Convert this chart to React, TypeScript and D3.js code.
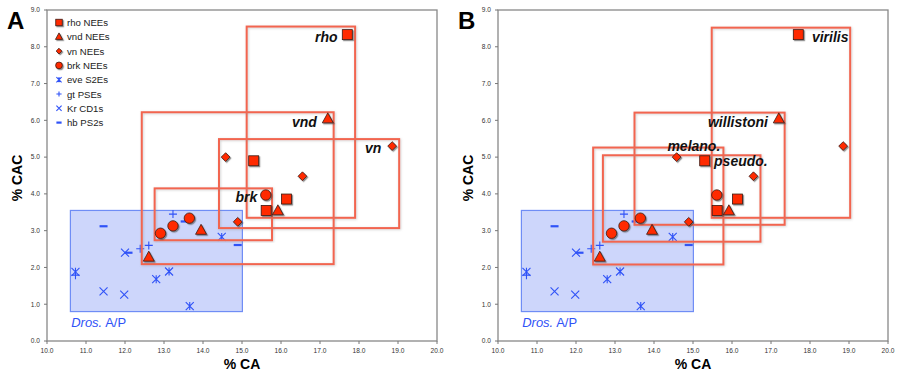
import * as d3 from 'd3';

// marker data (% CA, % CAC)
const rhoX = [15.30, 15.62, 16.14, 17.70];
const rhoY = [4.90, 3.55, 3.86, 8.33];
const vndX = [12.61, 13.95, 15.92, 17.20];
const vndY = [2.28, 3.01, 3.54, 6.04];
const vnX = [14.58, 16.55, 14.89, 18.85];
const vnY = [5.00, 4.48, 3.24, 5.30];
const brkX = [12.91, 13.23, 13.65, 15.61];
const brkY = [2.93, 3.13, 3.34, 3.97];
const eveX = [10.73, 12.80, 13.13, 13.66, 14.48];
const eveY = [1.88, 1.68, 1.89, 0.95, 2.83];
const gtX = [10.73, 12.39, 12.61, 13.23];
const gtY = [1.79, 2.51, 2.60, 3.45];
const krX = [11.45, 11.98, 12.00];
const krY = [1.35, 1.26, 2.40];
const hbX = [11.45, 12.09, 13.53, 14.89];
const hbY = [3.12, 2.40, 3.25, 2.61];

const legendLabels = ['rho NEEs', 'vnd NEEs', 'vn NEEs', 'brk NEEs', 'eve S2Es', 'gt PSEs', 'Kr CD1s', 'hb PS2s'];
const legendShapes = ['square', 'triangle', 'diamond', 'circle', 'asterisk', 'plus', 'cross', 'dash'];

const xTicks = [10, 11, 12, 13, 14, 15, 16, 17, 18, 19, 20];
const yTicks = [0, 1, 2, 3, 4, 5, 6, 7, 8, 9];

// blue Dros. A/P box [x0, x1, y0, y1]
const apBox = [10.60, 15.01, 0.80, 3.55];

// panel A boxes
const boxNamesA = ['rho', 'vnd', 'vn', 'brk'];
const boxX0A = [15.12, 12.43, 14.41, 12.76];
const boxX1A = [17.90, 17.35, 19.03, 15.77];
const boxY0A = [3.35, 2.09, 3.07, 2.74];
const boxY1A = [8.55, 6.22, 5.49, 4.15];
const labelXA = [17.45, 16.92, 18.57, 15.39];
const labelYA = [8.14, 5.83, 5.12, 3.78];
const labelAnchorA = ['end', 'end', 'end', 'end'];

// panel B boxes
const boxNamesB = ['virilis', 'willistoni', 'melano.', 'pseudo.'];
const boxX0B = [15.48, 13.50, 12.44, 12.69];
const boxX1B = [19.03, 17.35, 15.78, 16.73];
const boxY0B = [3.35, 3.16, 2.08, 2.70];
const boxY1B = [8.52, 6.21, 5.26, 5.05];
const labelXB = [18.05, 16.92, 15.70, 15.54];
const labelYB = [8.14, 5.83, 5.17, 4.75];
const labelAnchorB = ['start', 'end', 'end', 'start'];

const W = 899, H = 378;
const FONT = '"Liberation Sans", Arial, Helvetica, sans-serif';
const RED = '#ff2a00';
const BOXRED = '#f2654f';
const BLUE = '#2f52f7';

function Marker({ shape, x, y, s = 1 }: { shape: string; x: number; y: number; s?: number }) {
  const red = { fill: RED, stroke: '#3a1a10', strokeWidth: 0.8, filter: 'url(#shadow)' };
  const blue = { stroke: BLUE, strokeWidth: 1.1, fill: 'none' };
  if (shape === 'square') return <rect x={x - 5 * s} y={y - 5 * s} width={10 * s} height={10 * s} {...red} />;
  if (shape === 'circle') return <circle cx={x} cy={y} r={5.2 * s} {...red} />;
  if (shape === 'triangle')
    return <path d={`M${x},${y - 6 * s}L${x + 5.5 * s},${y + 4 * s}L${x - 5.5 * s},${y + 4 * s}Z`} {...red} />;
  if (shape === 'diamond')
    return <path d={`M${x},${y - 4.4 * s}L${x + 4.4 * s},${y}L${x},${y + 4.4 * s}L${x - 4.4 * s},${y}Z`} {...red} />;
  const r = 4 * s;
  if (shape === 'cross') return <path d={`M${x - r},${y - r}L${x + r},${y + r}M${x - r},${y + r}L${x + r},${y - r}`} {...blue} />;
  if (shape === 'plus') return <path d={`M${x - r},${y}L${x + r},${y}M${x},${y - r}L${x},${y + r}`} {...blue} />;
  if (shape === 'asterisk')
    return <path d={`M${x - r},${y - r}L${x + r},${y + r}M${x - r},${y + r}L${x + r},${y - r}M${x},${y - r}L${x},${y + r}`} {...blue} />;
  return <path d={`M${x - r},${y}L${x + r},${y}`} stroke={BLUE} strokeWidth={2.2} />;
}

function Panel({ left, letter, names, x0, x1, y0, y1, lx, ly, anchor, legend }: any) {
  const x = d3.scaleLinear().domain([10, 20]).range([left, left + 390]);
  const y = d3.scaleLinear().domain([0, 9]).range([341, 10]);
  const series: [string, number[], number[]][] = [
    ['asterisk', eveX, eveY], ['plus', gtX, gtY], ['cross', krX, krY], ['dash', hbX, hbY],
  ];
  const redSeries: [string, number[], number[]][] = [
    ['square', rhoX, rhoY], ['triangle', vndX, vndY], ['diamond', vnX, vnY], ['circle', brkX, brkY],
  ];
  return (
    <g fontFamily={FONT}>
      <text x={left - 40} y={29} fontSize={24} fontWeight="bold">{letter}</text>
      {/* blue region */}
      <rect x={x(apBox[0])} y={y(apBox[3])} width={x(apBox[1]) - x(apBox[0])} height={y(apBox[2]) - y(apBox[3])}
        fill="#cdd6fb" stroke="#6f8df5" strokeWidth={1.2} />
      <text x={x(10.62)} y={y(0.38)} fontSize={13} fill={BLUE}>
        <tspan fontStyle="italic">Dros.</tspan> A/P
      </text>
      {/* frame */}
      <rect x={left} y={10} width={390} height={331} fill="none" stroke="#888" strokeWidth={1.3} />
      {xTicks.map(t => (
        <g key={'x' + t}>
          <line x1={x(t)} x2={x(t)} y1={341} y2={344} stroke="#777" />
          <text x={x(t)} y={353} fontSize={6.6} textAnchor="middle" fill="#333">{t.toFixed(1)}</text>
        </g>
      ))}
      {yTicks.map(t => (
        <g key={'y' + t}>
          <line x1={left - 3} x2={left} y1={y(t)} y2={y(t)} stroke="#777" />
          <text x={left - 7} y={y(t) + 2.3} fontSize={6.6} textAnchor="end" fill="#333">{t.toFixed(1)}</text>
        </g>
      ))}
      <text x={left + 195} y={369} fontSize={14} fontWeight="bold" textAnchor="middle">% CA</text>
      <text transform={`translate(${left - 25},178) rotate(-90)`} fontSize={14} fontWeight="bold" textAnchor="middle">% CAC</text>
      {/* blue markers */}
      {series.map(([shape, xs, ys]) => xs.map((v, i) => <Marker key={shape + i} shape={shape} x={x(v)} y={y(ys[i])} />))}
      {/* red boxes */}
      {names.map((n: string, i: number) => (
        <rect key={n} x={x(x0[i])} y={y(y1[i])} width={x(x1[i]) - x(x0[i])} height={y(y0[i]) - y(y1[i])}
          fill="none" stroke={BOXRED} strokeWidth={2} filter="url(#soft)" />
      ))}
      {redSeries.map(([shape, xs, ys]) => xs.map((v, i) => <Marker key={shape + i} shape={shape} x={x(v)} y={y(ys[i])} />))}
      {names.map((n: string, i: number) => (
        <text key={'l' + n} x={x(lx[i])} y={y(ly[i])} fontSize={14} fontWeight="bold" fontStyle="italic"
          textAnchor={anchor[i]} fill="#111">{n}</text>
      ))}
      {legend && legendLabels.map((l, i) => (
        <g key={l}>
          <Marker shape={legendShapes[i]} x={59} y={22.5 + i * 14.3} s={0.65} />
          <text x={67} y={26 + i * 14.3} fontSize={9.6} fill="#222">{l}</text>
        </g>
      ))}
    </g>
  );
}

export default function App() {
  return (
    <svg width={W} height={H} style={{ position: 'absolute', left: 0, top: 0, background: '#fff' }}>
      <defs>
        <filter id="shadow" x="-50%" y="-50%" width="200%" height="200%">
          <feDropShadow dx={1.2} dy={1.2} stdDeviation={0.7} floodColor="#444" floodOpacity={0.6} />
        </filter>
        <filter id="soft" x="-5%" y="-5%" width="110%" height="110%">
          <feDropShadow dx={0.8} dy={0.8} stdDeviation={0.8} floodColor="#888" floodOpacity={0.4} />
        </filter>
      </defs>
      <rect width={W} height={H} fill="#fff" />
      <Panel left={47} letter="A" names={boxNamesA} x0={boxX0A} x1={boxX1A} y0={boxY0A} y1={boxY1A}
        lx={labelXA} ly={labelYA} anchor={labelAnchorA} legend />
      <Panel left={498} letter="B" names={boxNamesB} x0={boxX0B} x1={boxX1B} y0={boxY0B} y1={boxY1B}
        lx={labelXB} ly={labelYB} anchor={labelAnchorB} legend={false} />
    </svg>
  );
}
